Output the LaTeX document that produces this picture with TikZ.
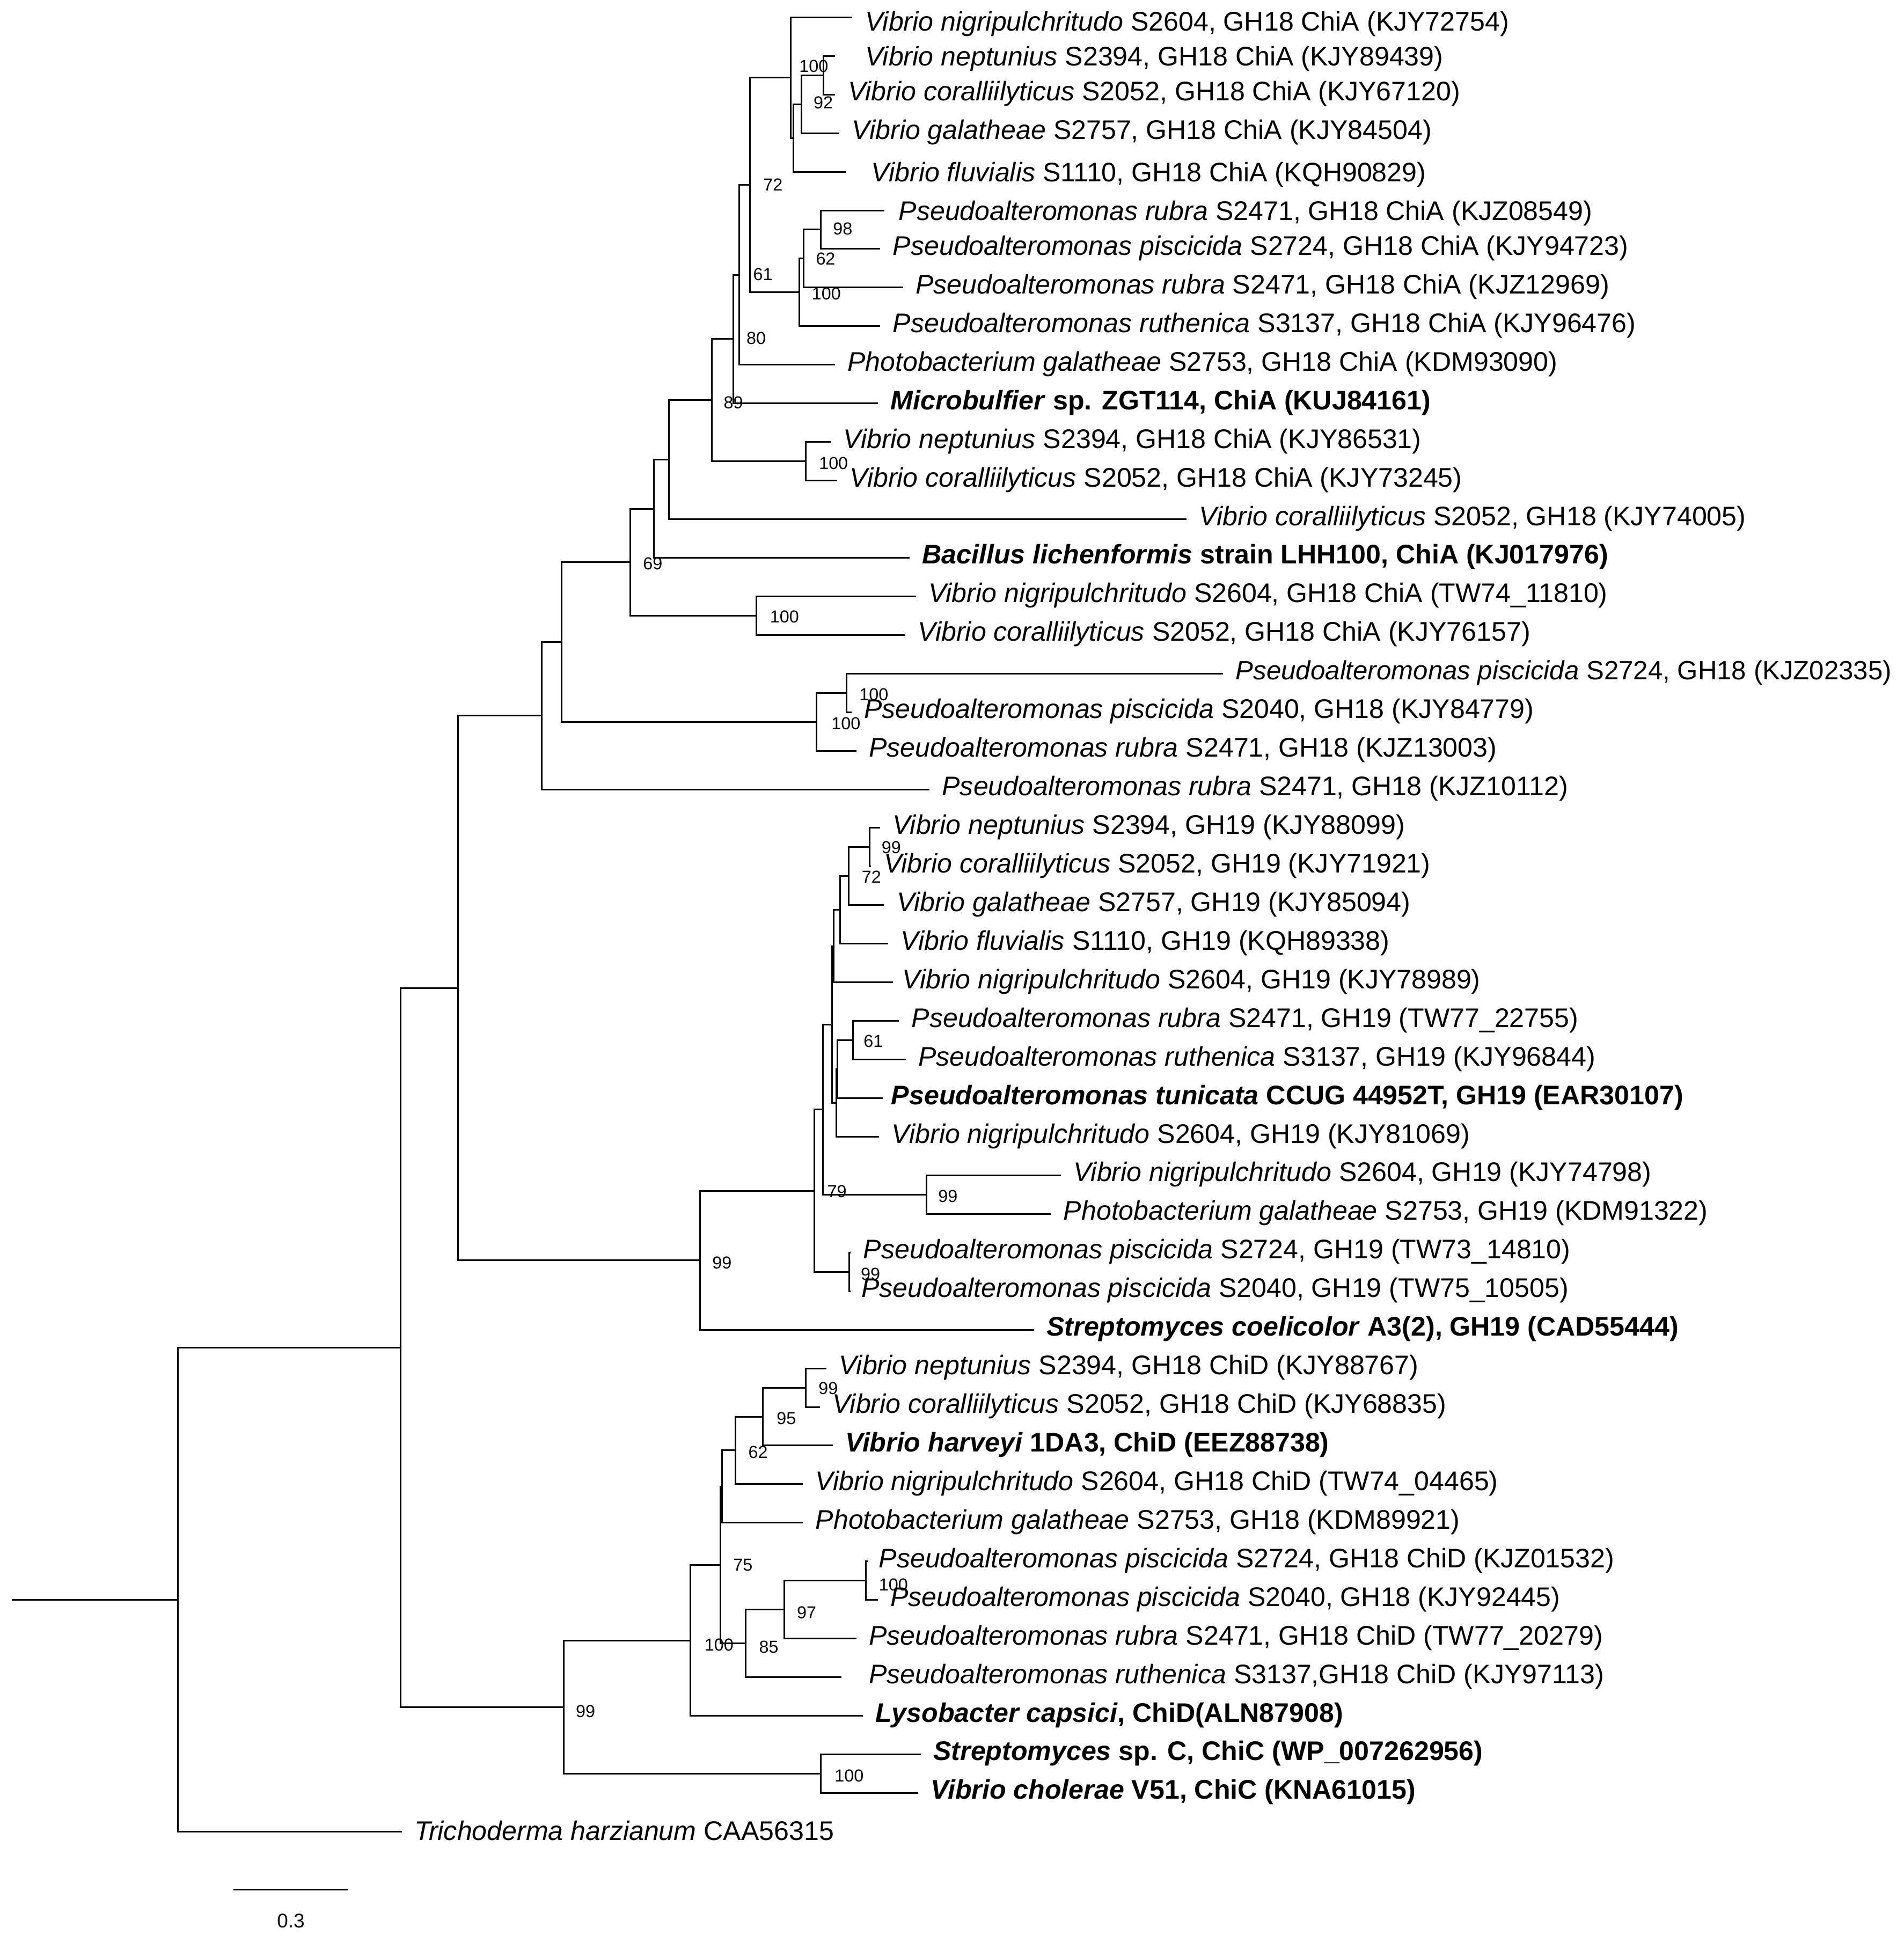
\documentclass[tikz,border=0pt]{standalone}
\usepackage{fontspec}
\setmainfont{Liberation Sans}
\begin{document}
\begin{tikzpicture}[x=1pt,y=-1pt,
  branch/.style={line width=1.3pt},
  leaf/.style={anchor=base west, inner sep=0pt, font=\fontsize{21.7}{26}\selectfont},
  bs/.style={inner sep=0pt, font=\fontsize{14}{16}\selectfont},
  scalelbl/.style={inner sep=0pt, font=\fontsize{16}{18}\selectfont}]
\useasboundingbox (0,0) rectangle (1536,1568);
% ---------- internal nodes ----------
\coordinate (r0) at (9.7,1291);
\coordinate (nRoot) at (143.6,1291);
\coordinate (n323) at (323.3,1087.4);
\coordinate (n370) at (369.8,797.27);
\coordinate (nT) at (437.2,577.54);
\coordinate (nQ) at (453.2,518.08);
\coordinate (nO) at (508.7,453.67);
\coordinate (nN) at (527.6,410.52);
\coordinate (nM) at (539.8,370.95);
\coordinate (nK) at (574.6,322.94);
\coordinate (nJ) at (591.8,273.66);
\coordinate (nI) at (596.6,221.83);
\coordinate (nE) at (605.3,149.31);
\coordinate (nA) at (638.2,62.67);
\coordinate (nB) at (640.1,111.34);
\coordinate (nC) at (646.9,84.09);
\coordinate (nD) at (664.3,60.725);
\coordinate (nF) at (645.0,235.94);
\coordinate (nG) at (648.4,208.69);
\coordinate (nH) at (662.5,185.33);
\coordinate (nL) at (650.4,372.23);
\coordinate (nP) at (610.4,496.83);
\coordinate (nR) at (658.7,582.49);
\coordinate (nS) at (683.2,559.13);
\coordinate (n99) at (565.0,1017.0);
\coordinate (nAD) at (657.1,960.91);
\coordinate (nAF) at (664.1,895.45);
\coordinate (nY) at (671.2,826.82);
\coordinate (nX) at (672.8,763.55);
\coordinate (nW) at (678.0,734.34);
\coordinate (nV) at (684.9,707.09);
\coordinate (nU) at (701.8,683.73);
\coordinate (nAC) at (674.7,890.1);
\coordinate (nAB) at (675.7,862.84);
\coordinate (nAA) at (688.1,839.48);
\coordinate (nAG) at (747.6,964.08);
\coordinate (nAE) at (685.1,1026.38);
\coordinate (nBJ) at (455.1,1377.54);
\coordinate (nBF) at (557.0,1323.76);
\coordinate (nBE) at (581.2,1262.92);
\coordinate (nBD) at (582.7,1199.65);
\coordinate (nBC) at (593.3,1170.44);
\coordinate (nBB) at (615.6,1143.19);
\coordinate (nBA) at (650.4,1119.83);
\coordinate (nBG) at (601.6,1326.2);
\coordinate (nBH) at (633.0,1298.94);
\coordinate (nBI) at (698.7,1275.58);
\coordinate (nBK) at (662.5,1431.33);
% ---------- leaf tips ----------
\coordinate (t1) at (687.7,14);
\coordinate (t2) at (674.0,45.15);
\coordinate (t3) at (674.0,76.3);
\coordinate (t4) at (677.4,107.45);
\coordinate (t5) at (682.3,138.6);
\coordinate (t6) at (713.6,169.75);
\coordinate (t7) at (710.3,200.9);
\coordinate (t8) at (728.7,232.05);
\coordinate (t9) at (710.3,263.2);
\coordinate (t10) at (673.6,294.35);
\coordinate (t11) at (708.4,325.5);
\coordinate (t12) at (670.3,356.65);
\coordinate (t13) at (675.5,387.8);
\coordinate (t14) at (957.6,418.95);
\coordinate (t15) at (734.0,450.1);
\coordinate (t16) at (739.0,481.25);
\coordinate (t17) at (730.6,512.4);
\coordinate (t18) at (987.0,543.55);
\coordinate (t19) at (687.1,574.7);
\coordinate (t20) at (691.0,605.85);
\coordinate (t21) at (750.0,637);
\coordinate (t22) at (710.1,668.15);
\coordinate (t23) at (703.0,699.3);
\coordinate (t24) at (713.4,730.45);
\coordinate (t25) at (716.7,761.6);
\coordinate (t26) at (720.4,792.75);
\coordinate (t27) at (725.4,823.9);
\coordinate (t28) at (730.8,855.05);
\coordinate (t29) at (712.5,886.2);
\coordinate (t30) at (709.4,917.35);
\coordinate (t31) at (856.0,948.5);
\coordinate (t32) at (848.0,979.65);
\coordinate (t33) at (686.5,1010.8);
\coordinate (t34) at (686.5,1041.95);
\coordinate (t35) at (834.4,1073.1);
\coordinate (t36) at (666.8,1104.25);
\coordinate (t37) at (661.6,1135.4);
\coordinate (t38) at (672.0,1166.55);
\coordinate (t39) at (647.9,1197.7);
\coordinate (t40) at (647.9,1228.85);
\coordinate (t41) at (700.0,1260);
\coordinate (t42) at (708.4,1291.15);
\coordinate (t43) at (691.0,1322.3);
\coordinate (t44) at (678.8,1353.45);
\coordinate (t45) at (696.2,1384.6);
\coordinate (t46) at (743.0,1415.75);
\coordinate (t47) at (741.0,1446.9);
\coordinate (t48) at (324.2,1478.05);
% ---------- branches ----------
\draw[branch] (r0) -- (nRoot);
\draw[branch] (n323) -| (nRoot) |- (t48);
\draw[branch] (n370) -| (n323) |- (nBJ);
\draw[branch] (nT) -| (n370) |- (n99);
\draw[branch] (nQ) -| (nT) |- (t21);
\draw[branch] (nO) -| (nQ) |- (nR);
\draw[branch] (nN) -| (nO) |- (nP);
\draw[branch] (nM) -| (nN) |- (t15);
\draw[branch] (nK) -| (nM) |- (t14);
\draw[branch] (nJ) -| (nK) |- (nL);
\draw[branch] (nI) -| (nJ) |- (t11);
\draw[branch] (nE) -| (nI) |- (t10);
\draw[branch] (nA) -| (nE) |- (nF);
\draw[branch] (t1) -| (nA) |- (nB);
\draw[branch] (nC) -| (nB) |- (t5);
\draw[branch] (nD) -| (nC) |- (t4);
\draw[branch] (t2) -| (nD) |- (t3);
\draw[branch] (nG) -| (nF) |- (t9);
\draw[branch] (nH) -| (nG) |- (t8);
\draw[branch] (t6) -| (nH) |- (t7);
\draw[branch] (t12) -| (nL) |- (t13);
\draw[branch] (t16) -| (nP) |- (t17);
\draw[branch] (nS) -| (nR) |- (t20);
\draw[branch] (t18) -| (nS) |- (t19);
\draw[branch] (nAD) -| (n99) |- (t35);
\draw[branch] (nAF) -| (nAD) |- (nAE);
\draw[branch] (nY) -| (nAF) |- (nAG);
\draw[branch] (nX) -| (nY) |- (nAC);
\draw[branch] (nW) -| (nX) |- (t26);
\draw[branch] (nV) -| (nW) |- (t25);
\draw[branch] (nU) -| (nV) |- (t24);
\draw[branch] (t22) -| (nU) |- (t23);
\draw[branch] (nAB) -| (nAC) |- (t30);
\draw[branch] (nAA) -| (nAB) |- (t29);
\draw[branch] (t27) -| (nAA) |- (t28);
\draw[branch] (t31) -| (nAG) |- (t32);
\draw[branch] (t33) -| (nAE) |- (t34);
\draw[branch] (nBF) -| (nBJ) |- (nBK);
\draw[branch] (nBE) -| (nBF) |- (t45);
\draw[branch] (nBD) -| (nBE) |- (nBG);
\draw[branch] (nBC) -| (nBD) |- (t40);
\draw[branch] (nBB) -| (nBC) |- (t39);
\draw[branch] (nBA) -| (nBB) |- (t38);
\draw[branch] (t36) -| (nBA) |- (t37);
\draw[branch] (nBH) -| (nBG) |- (t44);
\draw[branch] (nBI) -| (nBH) |- (t43);
\draw[branch] (t41) -| (nBI) |- (t42);
\draw[branch] (t46) -| (nBK) |- (t47);
% ---------- leaf labels ----------
\node[leaf] (l1) at (698,25) {\textit{Vibrio nigripulchritudo} S2604, GH18 ChiA (KJY72754)};
\node[leaf] (l2) at (698,53.15) {\textit{Vibrio neptunius} S2394, GH18 ChiA (KJY89439)};
\node[leaf] (l3) at (684,81.3) {\textit{Vibrio coralliilyticus} S2052, GH18 ChiA (KJY67120)};
\node[leaf] (l4) at (687.4,112.45) {\textit{Vibrio galatheae} S2757, GH18 ChiA (KJY84504)};
\node[leaf] (l5) at (703,146.6) {\textit{Vibrio fluvialis} S1110, GH18 ChiA (KQH90829)};
\node[leaf] (l6) at (725,177.75) {\textit{Pseudoalteromonas rubra} S2471, GH18 ChiA (KJZ08549)};
\node[leaf] (l7) at (720.3,205.9) {\textit{Pseudoalteromonas piscicida} S2724, GH18 ChiA (KJY94723)};
\node[leaf] (l8) at (738.7,237.05) {\textit{Pseudoalteromonas rubra} S2471, GH18 ChiA (KJZ12969)};
\node[leaf] (l9) at (720.3,268.2) {\textit{Pseudoalteromonas ruthenica} S3137, GH18 ChiA (KJY96476)};
\node[leaf] (l10) at (683.6,299.35) {\textit{Photobacterium galatheae} S2753, GH18 ChiA (KDM93090)};
\node[leaf] (l11) at (718.4,330.5) {\bfseries\textit{Microbulfier} sp. ZGT114, ChiA (KUJ84161)};
\node[leaf] (l12) at (680.3,361.65) {\textit{Vibrio neptunius} S2394, GH18 ChiA (KJY86531)};
\node[leaf] (l13) at (685.5,392.8) {\textit{Vibrio coralliilyticus} S2052, GH18 ChiA (KJY73245)};
\node[leaf] (l14) at (967.6,423.95) {\textit{Vibrio coralliilyticus} S2052, GH18 (KJY74005)};
\node[leaf] (l15) at (744,455.1) {\bfseries\textit{Bacillus lichenformis} strain LHH100, ChiA (KJ017976)};
\node[leaf] (l16) at (749,486.25) {\textit{Vibrio nigripulchritudo} S2604, GH18 ChiA (TW74\_11810)};
\node[leaf] (l17) at (740.6,517.4) {\textit{Vibrio coralliilyticus} S2052, GH18 ChiA (KJY76157)};
\node[leaf, font=\fontsize{21.3}{26}\selectfont] (l18) at (997,548.55) {\textit{Pseudoalteromonas piscicida} S2724, GH18 (KJZ02335)};
\node[leaf] (l19) at (697.1,579.7) {\textit{Pseudoalteromonas piscicida} S2040, GH18 (KJY84779)};
\node[leaf] (l20) at (701,610.85) {\textit{Pseudoalteromonas rubra} S2471, GH18 (KJZ13003)};
\node[leaf] (l21) at (760,642) {\textit{Pseudoalteromonas rubra} S2471, GH18 (KJZ10112)};
\node[leaf] (l22) at (720.1,673.15) {\textit{Vibrio neptunius} S2394, GH19 (KJY88099)};
\node[leaf] (l23) at (713,704.3) {\textit{Vibrio coralliilyticus} S2052, GH19 (KJY71921)};
\node[leaf] (l24) at (723.4,735.45) {\textit{Vibrio galatheae} S2757, GH19 (KJY85094)};
\node[leaf] (l25) at (726.7,766.6) {\textit{Vibrio fluvialis} S1110, GH19 (KQH89338)};
\node[leaf] (l26) at (728,797.75) {\textit{Vibrio nigripulchritudo} S2604, GH19 (KJY78989)};
\node[leaf] (l27) at (735.4,828.9) {\textit{Pseudoalteromonas rubra} S2471, GH19 (TW77\_22755)};
\node[leaf] (l28) at (740.8,860.05) {\textit{Pseudoalteromonas ruthenica} S3137, GH19 (KJY96844)};
\node[leaf] (l29) at (719,891.2) {\bfseries\textit{Pseudoalteromonas tunicata} CCUG 44952T, GH19 (EAR30107)};
\node[leaf] (l30) at (719.4,922.35) {\textit{Vibrio nigripulchritudo} S2604, GH19 (KJY81069)};
\node[leaf] (l31) at (866,953.5) {\textit{Vibrio nigripulchritudo} S2604, GH19 (KJY74798)};
\node[leaf] (l32) at (858,984.65) {\textit{Photobacterium galatheae} S2753, GH19 (KDM91322)};
\node[leaf] (l33) at (696.5,1015.8) {\textit{Pseudoalteromonas piscicida} S2724, GH19 (TW73\_14810)};
\node[leaf] (l34) at (695,1046.95) {\textit{Pseudoalteromonas piscicida} S2040, GH19 (TW75\_10505)};
\node[leaf] (l35) at (844.4,1078.1) {\bfseries\textit{Streptomyces coelicolor} A3(2), GH19 (CAD55444)};
\node[leaf] (l36) at (676.8,1109.25) {\textit{Vibrio neptunius} S2394, GH18 ChiD (KJY88767)};
\node[leaf] (l37) at (671.6,1140.4) {\textit{Vibrio coralliilyticus} S2052, GH18 ChiD (KJY68835)};
\node[leaf] (l38) at (682,1171.55) {\bfseries\textit{Vibrio harveyi} 1DA3, ChiD (EEZ88738)};
\node[leaf] (l39) at (657.9,1202.7) {\textit{Vibrio nigripulchritudo} S2604, GH18 ChiD (TW74\_04465)};
\node[leaf] (l40) at (657.9,1233.85) {\textit{Photobacterium galatheae} S2753, GH18 (KDM89921)};
\node[leaf] (l41) at (709,1265) {\textit{Pseudoalteromonas piscicida} S2724, GH18 ChiD (KJZ01532)};
\node[leaf] (l42) at (718.4,1296.15) {\textit{Pseudoalteromonas piscicida} S2040, GH18 (KJY92445)};
\node[leaf] (l43) at (701,1327.3) {\textit{Pseudoalteromonas rubra} S2471, GH18 ChiD (TW77\_20279)};
\node[leaf] (l44) at (701,1358.45) {\textit{Pseudoalteromonas ruthenica} S3137,GH18 ChiD (KJY97113)};
\node[leaf] (l45) at (706.2,1389.6) {\bfseries\textit{Lysobacter capsici}, ChiD(ALN87908)};
\node[leaf] (l46) at (753,1420.75) {\bfseries\textit{Streptomyces} sp. C, ChiC (WP\_007262956)};
\node[leaf] (l47) at (751,1451.9) {\bfseries\textit{Vibrio cholerae} V51, ChiC (KNA61015)};
\node[leaf] (l48) at (334.2,1485) {\textit{Trichoderma harzianum} CAA56315};
% ---------- bootstrap values ----------
\node[bs] (bD) at (656.6,53.5) {100};
\node[bs] (bC) at (664.3,82.9) {92};
\node[bs] (bE) at (623.7,149) {72};
\node[bs] (bH) at (680,184.6) {98};
\node[bs] (bG) at (666.2,208.8) {62};
\node[bs] (bF) at (615.6,221.4) {61};
\node[bs] (bG2) at (666.8,237) {100};
\node[bs] (bI) at (610.2,272.8) {80};
\node[bs] (bJ) at (591.8,325) {89};
\node[bs] (bL) at (672.6,373.7) {100};
\node[bs] (bN) at (526.7,455) {69};
\node[bs] (bP) at (633,497.8) {100};
\node[bs] (bS) at (705.1,560.4) {100};
\node[bs] (bR) at (682.6,584) {100};
\node[bs] (bU) at (719.2,683.9) {99};
\node[bs] (bV) at (703.2,707.8) {72};
\node[bs] (bAA) at (704.7,840.3) {61};
\node[bs] (bAF) at (675.4,961.5) {79};
\node[bs] (bAG) at (764.9,965.5) {99};
\node[bs] (bAE) at (702.4,1028) {99};
\node[bs] (b99) at (582.6,1019) {99};
\node[bs] (bBA) at (668.3,1120.5) {99};
\node[bs] (bBB) at (634.5,1144.5) {95};
\node[bs] (bBC) at (611.7,1172) {62};
\node[bs] (bBD) at (599.5,1263) {75};
\node[bs] (bBI) at (720.9,1279) {100};
\node[bs] (bBH) at (650.9,1301.5) {97};
\node[bs] (bBE) at (580.2,1327.5) {100};
\node[bs] (bBG) at (620.4,1329) {85};
\node[bs] (bBJ) at (472.5,1381) {99};
\node[bs] (bBK) at (685.2,1433) {100};
% ---------- scale bar ----------
\coordinate (s1) at (188.2,1525);
\coordinate (s2) at (281.1,1525);
\draw[line width=1.1pt] (s1) -- (s2);
\node[scalelbl] (sl) at (234.7,1550) {0.3};
\end{tikzpicture}
\end{document}
